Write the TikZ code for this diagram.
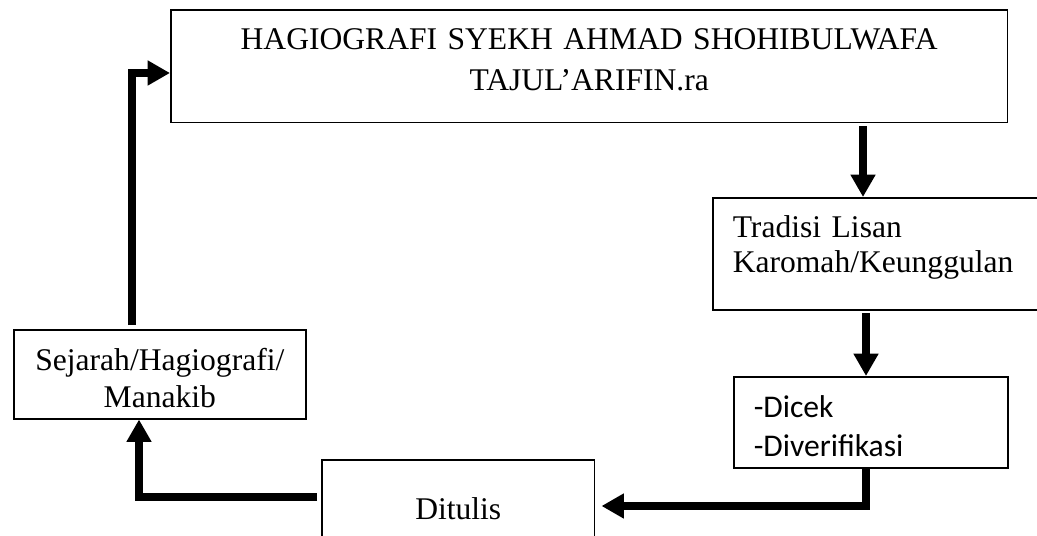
\documentclass[tikz,border=0pt]{standalone}
\usepackage{fontspec}
\setmainfont{Liberation Serif}
\newfontfamily\calibrifont{Carlito}
\usetikzlibrary{arrows.meta}

\begin{document}
\begin{tikzpicture}[
    x=0.38pt, y=-0.38pt,
    box/.style={draw, line width=0.6pt, fill=white, anchor=north west, inner xsep=0pt, inner ysep=0pt},
    arr/.style={-{Triangle[length=8.5pt, width=9pt]}, line width=2.9pt},
]
\fill[white] (0,0) rectangle (1037,536);
\clip (0,0) rectangle (1037,536);

%% ---- BOXES ----
\node[box, text width=318pt, align=center, text height=15.2pt, text depth=27.7pt,
      font=\fontsize{12pt}{15.6pt}\selectfont] (hagio) at (170,9)
      {HAGIOGRAFI SYEKH AHMAD SHOHIBULWAFA\\TAJUL’ARIFIN.ra};
\node[box, text width=113.2pt, inner xsep=7.6pt, align=left, text height=15.2pt, text depth=27.4pt,
      font=\fontsize{12pt}{13.3pt}\selectfont] (tradisi) at (712,197)
      {Tradisi Lisan\\Karomah/Keunggulan};
\node[box, text width=88.9pt, inner xsep=7.6pt, align=left, text height=15.6pt, text depth=19pt,
      font=\calibrifont\fontsize{12pt}{14.8pt}\selectfont] (dicek) at (733,376)
      {-Dicek\\-Diverifikasi};
\node[box, text width=103.7pt, align=center, text height=22.8pt, text depth=15.6pt,
      font=\fontsize{12pt}{14pt}\selectfont] (ditulis) at (321,459)
      {Ditulis};
\node[box, text width=111pt, align=center, text height=15.6pt, text depth=18.2pt,
      font=\fontsize{12pt}{14.1pt}\selectfont] (sejarah) at (13,329)
      {Sejarah/Hagiografi/\\Manakib};

%% ---- ARROWS ----
\coordinate (d1) at (863,0);
\coordinate (d2) at (866,0);
\coordinate (d3) at (866,506);
\coordinate (d4) at (139,497);
\coordinate (d5) at (132,73);

\draw[arr, shorten <=1pt] (hagio.south -| d1) -- (tradisi.north -| d1);
\draw[arr, shorten <=1pt] (tradisi.south -| d2) -- (dicek.north -| d2);
\draw[arr, shorten >=2.3pt] (dicek.south -| d3) |- (ditulis.east |- d3);
\draw[arr, shorten <=1.5pt] (ditulis.west |- d4) -| (d4 |- sejarah.south);
\draw[arr, shorten <=1.5pt] (sejarah.north -| d5) |- (hagio.west |- d5);

\end{tikzpicture}
\end{document}
